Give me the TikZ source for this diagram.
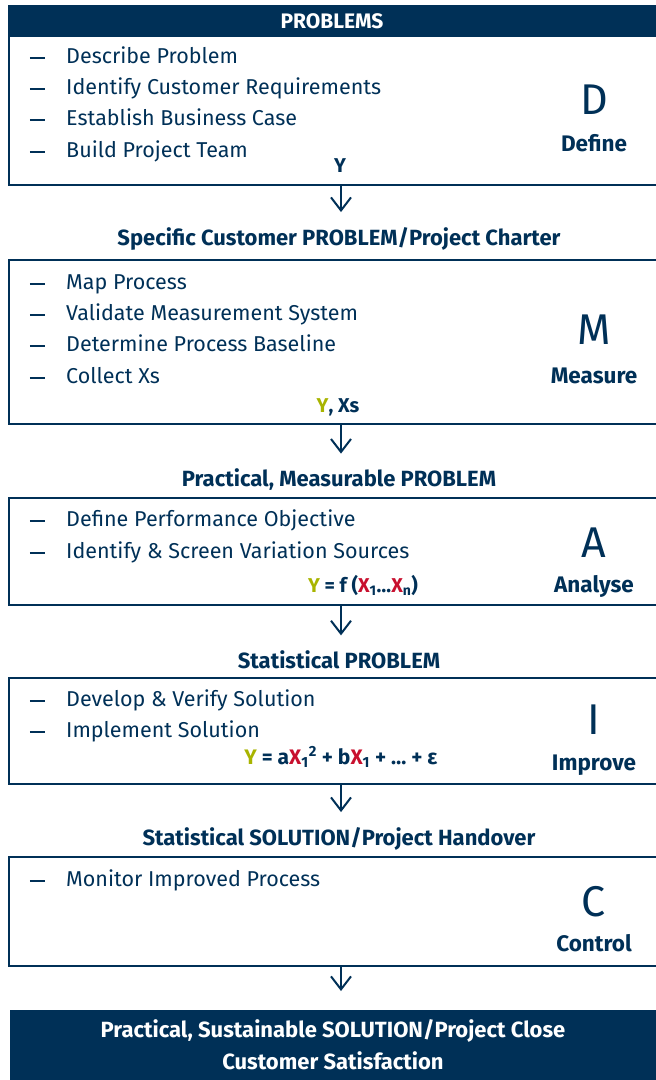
\documentclass[tikz,border=0pt]{standalone}
\usepackage{fontspec}
\setmainfont{Fira Sans}
\usepackage{xcolor}
\usetikzlibrary{arrows.meta,positioning}
\definecolor{navy}{RGB}{0,48,87}
\definecolor{ylime}{RGB}{168,180,0}
\definecolor{xred}{RGB}{200,16,46}
\newcommand{\Yv}{\textcolor{ylime}{Y}}
\newcommand{\Xv}[1]{\textcolor{xred}{X}\textsubscript{#1}}
\tikzset{
  band/.style={fill=navy, draw=none, text=white, font=\fontsize{21}{24}\selectfont\bfseries},
  stage/.style={draw=navy, line width=1.6pt},
  item/.style={anchor=west, text=navy, inner sep=0pt, text height=15pt, text depth=4pt,
    font=\fontsize{21.5}{24}\selectfont,
    label={[inner sep=0pt, label distance=21pt]left:{\color{navy}\rule{15pt}{1.4pt}}}},
  phase/.style={text=navy, font=\fontsize{43}{43}\selectfont},
  phasename/.style={text=navy, font=\fontsize{22.5}{24}\selectfont\bfseries},
  outvar/.style={text=navy, font=\fontsize{20}{24}\selectfont\bfseries},
  title/.style={text=navy, font=\fontsize{22}{24}\selectfont\bfseries},
  flow/.style={draw=navy, line width=2pt, -{Straight Barb[length=13pt,width=20pt]}}
}
\begin{document}
\begin{tikzpicture}[x=1pt, y=-1pt]
\useasboundingbox (0,0) rectangle (656,1080);
\clip (0,0) rectangle (656,1080);
% Define
\node[band, minimum width=648pt, minimum height=32pt] (problems) at (332,21) {PROBLEMS};
\draw[stage] (9,37) -- (9,185) -- (660,185);
\node[item] (d1) at (66,58) {Describe Problem};
\node[item] (d2) at (66,89) {Identify Customer Requirements};
\node[item] (d3) at (66,120) {Establish Business Case};
\node[item] (d4) at (66,152) {Build Project Team};
\node[phase] (D) at (594,100) {D};
\node[phasename] (define) at (594,143) {Define};
\node[outvar] (y1) at (340,166) {Y};
\coordinate (d-out) at (341,185);
\node[title] (charter) at (339,239) {Specific Customer PROBLEM/Project Charter};
\draw[flow, shorten >=12pt] (d-out) -- (d-out |- charter.north);
% Measure
\draw[stage] (660,260) -| (9,424) -- (660,424);
\node[item] (m1) at (66,284) {Map Process};
\node[item] (m2) at (66,315) {Validate Measurement System};
\node[item] (m3) at (66,346) {Determine Process Baseline};
\node[item] (m4) at (66,378) {Collect Xs};
\node[phase] (M) at (594,330) {M};
\node[phasename] (measure) at (594,376) {Measure};
\node[outvar] (y2) at (338,407) {\Yv, Xs};
\coordinate (m-out) at (341,424);
\node[title] (practical) at (339,480) {Practical, Measurable PROBLEM};
\draw[flow, shorten >=12pt] (m-out) -- (m-out |- practical.north);
% Analyse
\draw[stage] (660,498) -| (9,605) -- (660,605);
\node[item] (a1) at (66,521) {Define Performance Objective};
\node[item] (a2) at (66,553) {Identify \& Screen Variation Sources};
\node[phase] (A) at (594,543) {A};
\node[phasename] (analyse) at (594,586) {Analyse};
\node[outvar] (y3) at (363,585) {\Yv{} = f (\Xv{1}\ldots\Xv{n})};
\coordinate (a-out) at (341,605);
\node[title] (statprob) at (339,660) {Statistical PROBLEM};
\draw[flow, shorten >=12pt] (a-out) -- (a-out |- statprob.north);
% Improve
\draw[stage] (660,678) -| (9,784) -- (660,784);
\node[item] (i1) at (66,701) {Develop \& Verify Solution};
\node[item] (i2) at (66,732) {Implement Solution};
\node[phase] (I) at (594,720) {I};
\node[phasename] (improve) at (594,765) {Improve};
\node[outvar, font=\fontsize{21}{24}\selectfont\bfseries] (y4) at (341,757) {\Yv{} = a\Xv{1}\textsuperscript{2} + b\Xv{1} + \ldots{} + ε};
\coordinate (i-out) at (341,784);
\node[title] (statsol) at (339,839) {Statistical SOLUTION/Project Handover};
\draw[flow, shorten >=12pt] (i-out) -- (i-out |- statsol.north);
% Control
\draw[stage] (660,857) -| (9,966) -- (660,966);
\node[item] (c1) at (66,881) {Monitor Improved Process};
\node[phase] (C) at (594,902) {C};
\node[phasename] (control) at (594,943) {Control};
\coordinate (c-out) at (341,966);
\node[band, align=center, font=\fontsize{22}{32}\selectfont\bfseries,
  minimum width=646pt, minimum height=70pt] (close) at (333,1045)
  {Practical, Sustainable SOLUTION/Project Close\\Customer Satisfaction};
\draw[flow] (c-out) -- ++(0,25);
\end{tikzpicture}
\end{document}
